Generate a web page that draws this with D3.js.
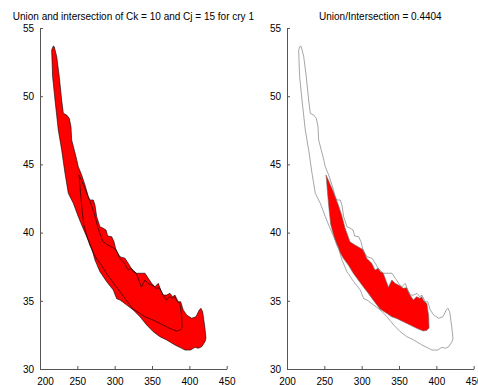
<!DOCTYPE html>
<html>
<head>
<meta charset="utf-8">
<script src="https://cdn.jsdelivr.net/npm/d3@7"></script>
<style>
  html, body { margin: 0; padding: 0; background: #fff; }
  svg { display: block; }
  text { font-family: "Liberation Sans", Arial, Helvetica, sans-serif; fill: #000; }
</style>
</head>
<body>
<svg id="chart" width="478" height="385"></svg>
<script>
// ---- data ----
const xTicks = [200, 250, 300, 350, 400, 450];
const yTicks = [30, 35, 40, 45, 50, 55];
const xDomain = [200, 450];
const yDomain = [30, 55];
const titleLeft = "Union and intersection of Ck = 10 and Cj = 15 for cry 1";
const titleRight = "Union/Intersection = 0.4404";

// region for Ck = 10 (larger outline)
const regionCk = [
  [217.8,53.68],[219.1,53.63],[222.4,52.90],[225.8,51.43],[229.0,49.72],[231.2,48.75],[235.7,48.62],
  [239.2,48.38],[241.5,47.76],[242.4,46.79],[248.2,45.56],[251.3,44.83],[255.8,44.22],[260.2,43.49],
  [264.7,42.63],[266.9,42.39],[271.4,42.39],[273.6,42.02],[275.9,41.17],[280.3,40.43],[284.7,40.32],
  [288.4,40.19],[290.6,39.75],[296.0,39.70],[299.1,39.33],[301.7,38.72],[307.1,38.23],[313.8,38.12],
  [318.2,37.75],[324.9,37.13],[329.5,37.02],[340.6,37.02],[345.0,36.65],[349.5,36.28],[353.9,36.03],
  [358.4,36.28],[361.6,35.79],[365.1,35.42],[369.6,35.42],[374.0,35.55],[377.6,35.30],[380.7,35.42],
  [385.1,34.93],[388.4,34.93],[391.8,34.33],[396.4,33.96],[403.1,33.72],[408.8,33.83],[413.3,34.33],
  [415.5,34.45],[417.8,34.20],[420.9,32.98],[422.2,32.25],[420.9,32.00],[416.5,31.63],[411.9,31.52],
  [407.5,31.59],[401.7,31.39],[394.1,31.39],[389.7,31.52],[380.7,31.76],[369.6,32.13],[360.6,32.37],
  [351.7,32.73],[342.8,33.23],[333.9,33.83],[324.9,34.33],[316.1,34.69],[307.1,35.06],[302.7,35.15],
  [298.1,35.79],[289.3,36.40],[280.3,37.13],[273.6,37.99],[269.2,38.85],[262.5,39.70],[255.8,40.56],
  [251.3,41.17],[244.6,42.15],[237.9,42.88],[233.5,44.35],[229.0,46.06],[224.5,47.52],[220.1,49.72],
  [216.9,51.43],[215.6,53.39]
];

// region for Cj = 15 (smaller outline)
const regionCj = [
  [252.2,44.22],[255.3,43.86],[262.0,43.00],[268.7,42.02],[273.2,41.29],[277.6,40.35],[284.3,39.33],
  [291.0,39.09],[302.1,38.75],[306.7,38.12],[313.4,37.75],[317.8,37.26],[322.2,37.38],[328.9,37.02],
  [335.8,36.00],[340.4,36.52],[344.6,36.28],[351.3,36.10],[355.7,35.92],[360.2,35.95],[364.7,35.43],
  [369.1,35.06],[373.6,35.30],[378.0,35.18],[380.3,35.30],[383.0,35.00],[387.2,34.80],[389.7,33.90],
  [390.2,33.00],[387.0,32.83],[382.5,32.79],[373.6,32.98],[364.7,33.23],[355.7,33.47],[346.9,33.70],
  [340.2,33.83],[333.5,34.08],[324.5,34.40],[316.1,35.00],[308.8,35.55],[302.1,36.03],[295.4,36.52],
  [288.8,37.02],[282.1,37.62],[275.4,38.12],[271.5,38.50],[266.7,39.08],[262.5,39.80],[258.5,40.60],
  [256.5,41.60],[254.6,42.70],[252.8,43.90]
];

// ---- drawing ----
const svg = d3.select("#chart");
const panels = [
  { left: 40, right: 226.7, title: titleLeft, mode: "union" },
  { left: 287, right: 473.7, title: titleRight, mode: "intersection" }
];
const plotTop = 28, plotBottom = 369;
const axisColor = "#555";

panels.forEach((p, i) => {
  const x = d3.scaleLinear().domain(xDomain).range([p.left, p.right]);
  const y = d3.scaleLinear().domain(yDomain).range([plotBottom, plotTop]);
  const line = d3.line().x(d => x(d[0])).y(d => y(d[1])).curve(d3.curveLinearClosed);
  const g = svg.append("g");

  if (p.mode === "union") {
    g.append("path").attr("d", line(regionCk)).attr("fill", "#ff0000").attr("stroke", "none");
    g.append("path").attr("d", line(regionCj)).attr("fill", "#ff0000").attr("stroke", "none");
    [regionCk, regionCj].forEach(r => {
      g.append("path").attr("d", line(r)).attr("fill", "none")
        .attr("stroke", "#000").attr("stroke-width", 0.6).attr("stroke-linejoin", "round");
    });
  } else {
    const clipId = "clipCk" + i;
    svg.append("defs").append("clipPath").attr("id", clipId)
      .append("path").attr("d", line(regionCk));
    g.append("path").attr("d", line(regionCj)).attr("fill", "#ff0000")
      .attr("clip-path", `url(#${clipId})`);
    [regionCk, regionCj].forEach(r => {
      g.append("path").attr("d", line(r)).attr("fill", "none")
        .attr("stroke", "#6a6a6a").attr("stroke-width", 0.6).attr("stroke-linejoin", "round");
    });
  }

  // axes (MATLAB-like: left and bottom, inward ticks)
  const yAxis = d3.axisLeft(y).tickValues(yTicks).tickSizeInner(-3).tickSizeOuter(0).tickPadding(6)
    .tickFormat(d3.format("d"));
  const xAxis = d3.axisBottom(x).tickValues(xTicks).tickSizeInner(-3).tickSizeOuter(0).tickPadding(6)
    .tickFormat(d3.format("d"));

  const ga = svg.append("g").attr("transform", `translate(${p.left},0)`).call(yAxis);
  const gb = svg.append("g").attr("transform", `translate(0,${plotBottom})`).call(xAxis);
  [ga, gb].forEach(a => {
    a.select(".domain").attr("stroke", axisColor).attr("stroke-width", 1);
    a.selectAll(".tick line").attr("stroke", axisColor);
    a.selectAll(".tick text").attr("font-size", 10).attr("font-family", '"Liberation Sans", Arial, sans-serif')
      .attr("fill", "#000");
  });
  gb.selectAll(".tick text").attr("dy", "0.95em");
  if (i === 0) {
    // first x label nudged right, as in the reference
    gb.selectAll(".tick text").filter(d => d === xTicks[0]).attr("dx", 5);
  }

  svg.append("text")
    .attr("x", (p.left + p.right) / 2)
    .attr("y", 20)
    .attr("text-anchor", "middle")
    .attr("font-size", 10)
    .text(p.title);
});
</script>
</body>
</html>
